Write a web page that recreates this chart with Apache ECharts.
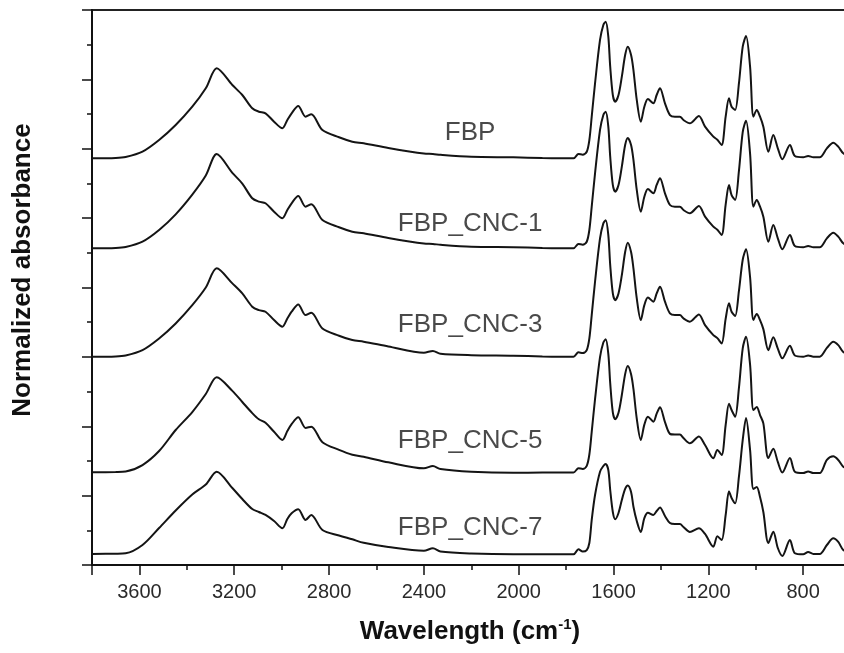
<!DOCTYPE html>
<html><head><meta charset="utf-8">
<script src="https://cdn.jsdelivr.net/npm/echarts@6/dist/echarts.min.js"></script>
<style>html,body{margin:0;padding:0;background:#fff}#c{width:844px;height:653px}</style>
</head><body><div id="c"></div>
<script>
// Wavenumbers (cm-1), shared by all spectra
const wavenumbers = [3800,3700,3658,3587,3517,3447,3377,3320,3274,3208,
 3166,3124,3096,3068,3032,2997,2976,2958,2930,2899,
 2875,2828,2758,2702,2654,2550,2400,2362,2330,2200,
 2023,1900,1769,1748,1730,1713,1702,1692,1678,1657,
 1643,1633,1622,1614,1603,1593,1579,1565,1551,1540,
 1526,1516,1502,1485,1470,1455,1432,1418,1404,1383,
 1362,1341,1320,1305,1278,1240,1214,1179,1162,1144,
 1127,1113,1102,1087,1071,1055,1041,1024,1010,996,
 982,968,947,926,907,888,856,835,800,779,
 757,730,700,673,652,631,605];

const fbp = [5.862,5.867,5.881,5.958,6.126,6.342,6.606,6.871,7.160,6.919,
 6.775,6.583,6.534,6.511,6.390,6.295,6.414,6.511,6.616,6.462,
 6.497,6.270,6.165,6.102,6.079,6.011,5.930,5.925,5.912,5.884,
 5.877,5.867,5.862,5.925,5.915,5.957,6.126,6.462,6.943,7.568,
 7.784,7.831,7.615,7.183,6.775,6.678,6.775,7.039,7.351,7.471,
 7.351,7.135,6.703,6.390,6.606,6.717,6.655,6.775,6.871,6.655,
 6.486,6.462,6.462,6.414,6.367,6.472,6.318,6.174,6.130,6.054,
 6.462,6.727,6.606,6.559,6.943,7.471,7.625,7.183,6.462,6.559,
 6.462,6.318,5.957,6.198,6.006,5.848,6.054,5.895,5.877,5.895,
 5.877,5.877,6.006,6.087,6.030,5.934,5.900];

const fbpCnc1 = [4.565,4.570,4.584,4.661,4.829,5.055,5.339,5.614,5.924,5.652,
 5.498,5.286,5.237,5.214,5.093,4.998,5.117,5.214,5.319,5.165,
 5.200,4.973,4.868,4.805,4.782,4.714,4.633,4.628,4.615,4.587,
 4.580,4.570,4.565,4.628,4.618,4.660,4.829,5.165,5.646,6.271,
 6.487,6.534,6.318,5.886,5.478,5.381,5.478,5.742,6.054,6.155,
 6.054,5.838,5.406,5.093,5.309,5.420,5.358,5.478,5.574,5.358,
 5.189,5.165,5.165,5.117,5.070,5.175,5.021,4.877,4.833,4.757,
 5.195,5.477,5.330,5.262,5.680,6.240,6.404,5.930,5.165,5.262,
 5.165,5.021,4.660,4.901,4.709,4.551,4.757,4.598,4.580,4.598,
 4.580,4.580,4.709,4.790,4.733,4.637,4.600];

const fbpCnc3 = [3.002,3.007,3.021,3.098,3.266,3.482,3.746,4.000,4.277,4.059,
 3.915,3.723,3.674,3.651,3.530,3.435,3.554,3.651,3.756,3.602,
 3.637,3.410,3.305,3.242,3.219,3.151,3.060,3.085,3.045,3.024,
 3.017,3.007,3.002,3.065,3.055,3.097,3.266,3.602,4.083,4.708,
 4.924,4.971,4.755,4.323,3.915,3.818,3.915,4.179,4.511,4.646,
 4.511,4.275,3.843,3.530,3.746,3.857,3.795,3.915,4.011,3.795,
 3.626,3.602,3.602,3.554,3.507,3.612,3.458,3.314,3.270,3.194,
 3.550,3.772,3.650,3.589,3.950,4.400,4.551,4.150,3.532,3.618,
 3.530,3.400,3.097,3.282,3.120,2.980,3.161,3.020,3.003,3.020,
 3.003,3.003,3.130,3.219,3.170,3.070,3.040];

const fbpCnc5 = [1.336,1.341,1.348,1.441,1.643,1.946,2.205,2.465,2.706,2.510,
 2.350,2.190,2.100,2.050,1.920,1.802,1.930,2.030,2.129,1.975,
 1.994,1.770,1.660,1.590,1.561,1.480,1.394,1.427,1.384,1.345,
 1.330,1.333,1.333,1.395,1.385,1.430,1.593,1.920,2.390,2.996,
 3.207,3.253,3.042,2.622,2.200,2.100,2.194,2.450,2.752,2.868,
 2.750,2.537,2.111,1.802,2.024,2.138,2.066,2.181,2.273,2.060,
 1.890,1.880,1.881,1.830,1.754,1.852,1.730,1.538,1.658,1.586,
 2.018,2.325,2.234,2.138,2.553,3.124,3.291,2.889,2.234,2.277,
 2.162,2.042,1.542,1.675,1.485,1.333,1.542,1.345,1.326,1.348,
 1.326,1.326,1.514,1.567,1.514,1.417,1.380];

const fbpCnc7 = [0.159,0.163,0.169,0.288,0.533,0.786,1.016,1.160,1.345,1.110,
 0.951,0.807,0.764,0.721,0.634,0.529,0.663,0.745,0.803,0.649,
 0.721,0.505,0.425,0.370,0.320,0.259,0.206,0.241,0.195,0.166,
 0.154,0.154,0.154,0.226,0.195,0.216,0.317,0.649,1.009,1.345,
 1.427,1.456,1.369,1.081,0.764,0.659,0.750,0.937,1.096,1.146,
 1.052,0.840,0.634,0.476,0.677,0.754,0.721,0.778,0.829,0.706,
 0.605,0.591,0.591,0.548,0.476,0.529,0.447,0.264,0.414,0.360,
 0.721,1.062,0.966,0.889,1.273,1.802,2.120,1.658,1.096,1.124,
 0.980,0.764,0.317,0.480,0.245,0.130,0.360,0.169,0.154,0.187,
 0.159,0.159,0.288,0.385,0.332,0.216,0.190];

const seriesNames = ['FBP','FBP_CNC-1','FBP_CNC-3','FBP_CNC-5','FBP_CNC-7'];
const labelWavenumber = 2205;
const labelLevels = [6.234,4.915,3.459,1.787,0.541];
const xTickLabels = [3600,3200,2800,2400,2000,1600,1200,800];

const FONT = "'Liberation Sans', Arial, Helvetica, sans-serif";
const INK = '#111';
const spectra = [fbp, fbpCnc1, fbpCnc3, fbpCnc5, fbpCnc7];

const lineSeries = spectra.map((vals, i) => ({
  type: 'line',
  name: seriesNames[i],
  data: wavenumbers.map((w, j) => [w, vals[j]]),
  showSymbol: false,
  smooth: 0.3,
  silent: true,
  clip: true,
  lineStyle: { color: '#141414', width: 2 }
}));

const labelSeries = {
  type: 'scatter',
  symbolSize: 0,
  silent: true,
  data: seriesNames.map((n, i) => ({ name: n, value: [labelWavenumber, labelLevels[i]] })),
  label: {
    show: true, position: 'inside', formatter: '{b}',
    fontSize: 26, color: '#1c1c1c', fontFamily: FONT
  }
};

const tickStyle = { color: INK, width: 1.5 };

const option = {
  animation: false,
  backgroundColor: '#fff',
  grid: { left: 92, width: 806, top: 10, height: 555, show: true, borderColor: '#222', borderWidth: 2,
          containLabel: false, outerBoundsMode: 'none' },
  xAxis: [
    {
      type: 'value', min: 400, max: 3800, inverse: true, interval: 200, position: 'bottom',
      axisLine: { show: true, onZero: false, lineStyle: { color: INK, width: 2 } },
      axisTick: { show: true, length: 5, lineStyle: tickStyle },
      axisLabel: {
        formatter: v => (xTickLabels.indexOf(v) >= 0 ? String(v) : ''),
        fontSize: 20, color: '#2a2a2a', margin: 17, fontFamily: FONT
      },
      splitLine: { show: false },
      name: '{t|Wavelength (cm}{s|-1}{t|)}',
      nameLocation: 'middle', nameGap: 52,
      nameTextStyle: {
        padding: [0, 50, 0, 0],
        rich: {
          t: { fontSize: 26, fontWeight: 'bold', color: INK, fontFamily: FONT, lineHeight: 30 },
          s: { fontSize: 15, fontWeight: 'bold', color: INK, fontFamily: FONT, verticalAlign: 'top', lineHeight: 14 }
        }
      }
    },
    {
      type: 'value', min: 400, max: 3800, inverse: true, interval: 400, position: 'bottom',
      axisLine: { show: false, onZero: false },
      axisTick: { show: true, length: 10, lineStyle: tickStyle },
      axisLabel: { show: false },
      splitLine: { show: false }
    }
  ],
  yAxis: {
    type: 'value', min: 0, max: 8, interval: 1,
    axisLine: { show: true, onZero: false, lineStyle: { color: INK, width: 2 } },
    axisTick: { show: true, length: 10, lineStyle: tickStyle },
    minorTick: { show: true, splitNumber: 2, length: 5, lineStyle: tickStyle },
    axisLabel: { show: false },
    splitLine: { show: false },
    minorSplitLine: { show: false },
    name: 'Normalized absorbance',
    nameLocation: 'middle', nameGap: 56,
    nameTextStyle: { fontSize: 26, fontWeight: 'bold', color: INK, fontFamily: FONT, padding: [0, 0, 0, 35] }
  },
  series: lineSeries.concat([labelSeries])
};

const chart = echarts.init(document.getElementById('c'), null, { renderer: 'canvas' });
chart.setOption(option);
</script>
</body></html>
